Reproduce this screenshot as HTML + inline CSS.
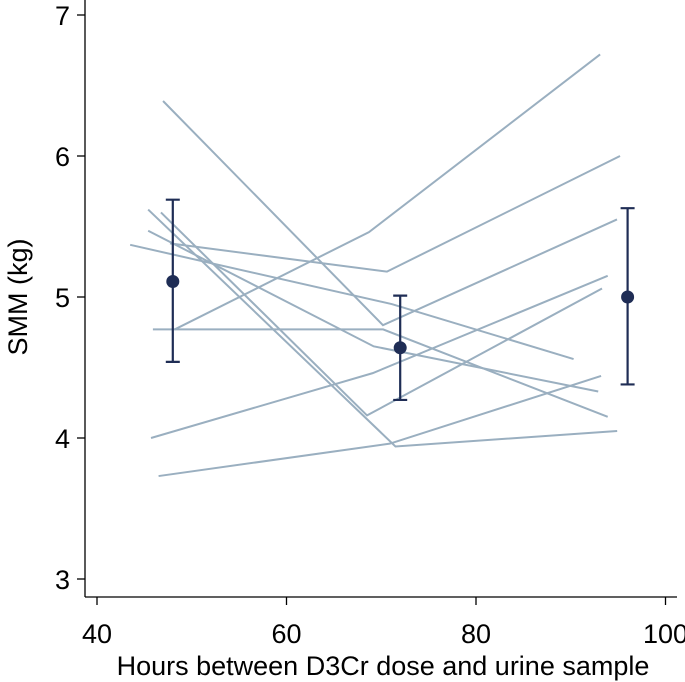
<!DOCTYPE html>
<html><head><meta charset="utf-8"><style>
body{margin:0;background:#fff}
svg{display:block;font-family:"Liberation Sans",sans-serif}
</style></head><body>
<svg id="c" width="685" height="682">
<g id="axes"></g>
<g id="lines"></g>
<g id="means"></g>
</svg>
<script>
const xTicks=[40,60,80,100];
const yTicks=[3,4,5,6,7];
const subjX=[[46.97,70.18,94.88],[48.2,68.7,93.1],[45.9,70.2,93.9],[47.7,70.6,95.2],[45.4,69.2,92.9],[45.4,71.5,94.9],[46.75,68.5,93.3],[45.7,69.1,93.9],[46.5,70.9,93.2],[43.5,71.1,90.3]];
const subjY=[[6.39,4.80,5.55],[4.77,5.46,6.72],[4.77,4.77,4.15],[5.38,5.18,6.0],[5.47,4.65,4.33],[5.62,3.94,4.05],[5.60,4.16,5.06],[4.0,4.46,5.15],[3.73,3.96,4.44],[5.37,4.95,4.56]];
const meanX=[48,72,96];
const meanY=[5.11,4.64,5.00];
const lowY=[4.54,4.27,4.38];
const highY=[5.69,5.01,5.63];
const NS="http://www.w3.org/2000/svg";
const X=v=>97+(v-40)*9.475;
const Y=v=>15+(7-v)*141;
function mk(p,t,a){const e=document.createElementNS(NS,t);for(const k in a)e.setAttribute(k,a[k]);p.appendChild(e);return e;}
const ax=document.getElementById('axes');
let e=mk(ax,'line',{x1:85,y1:0,x2:85,y2:597,stroke:'#000','stroke-width':1.3});


e=mk(ax,'line',{x1:85,y1:597,x2:677,y2:597,stroke:'#000','stroke-width':1.3});


xTicks.forEach(t=>{
 let l=mk(ax,'line',{x1:X(t),y1:597,x2:X(t),y2:605,stroke:'#000','stroke-width':1.3});
 
 
 let tx=mk(ax,'text',{x:X(t),y:643,'text-anchor':'middle','font-size':27});tx.textContent=t;
 
 
});
yTicks.forEach(t=>{
 let l=mk(ax,'line',{x1:77,y1:Y(t),x2:85,y2:Y(t),stroke:'#000','stroke-width':1.3});
 
 
 let tx=mk(ax,'text',{x:70,y:Y(t)+10,'text-anchor':'end','font-size':27});tx.textContent=t;
 
 
});
let xt=mk(ax,'text',{x:383,y:675,'text-anchor':'middle','font-size':27});xt.textContent='Hours between D3Cr dose and urine sample';


let yt=mk(ax,'text',{x:0,y:0,'text-anchor':'middle','font-size':27,transform:'translate(27,297) rotate(-90)'});yt.textContent='SMM (kg)';


const lg=document.getElementById('lines');
subjX.forEach((xs,i)=>{
 const pts=xs.map((x,j)=>X(x)+','+Y(subjY[i][j])).join(' ');
 let p=mk(lg,'polyline',{points:pts,fill:'none',stroke:'#9aafc0','stroke-width':2});
 
 
});
const mg=document.getElementById('means');
meanX.forEach((m,i)=>{
 const x=X(m),c='#1f2d55';
 let b=mk(mg,'path',{d:`M${x},${Y(lowY[i])}V${Y(highY[i])}M${x-7},${Y(lowY[i])}H${x+7}M${x-7},${Y(highY[i])}H${x+7}`,stroke:c,'stroke-width':2.2,fill:'none'});
 
 
 let d=mk(mg,'circle',{cx:x,cy:Y(meanY[i]),r:6.5,fill:c});
 
 
});
</script>
</body></html>
